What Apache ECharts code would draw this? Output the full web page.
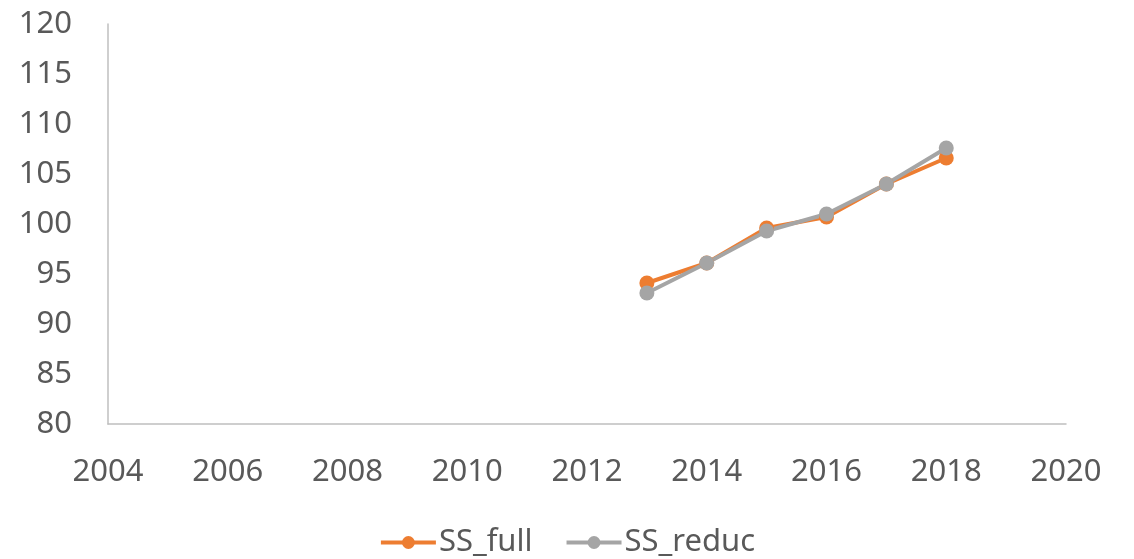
<!DOCTYPE html>
<html>
<head>
<meta charset="utf-8">
<script src="https://cdn.jsdelivr.net/npm/echarts@6/dist/echarts.min.js"></script>
<style>
  html, body { margin: 0; padding: 0; background: #ffffff; }
  #chart { width: 1134px; height: 559px; }
</style>
</head>
<body>
<div id="chart"></div>
<script>
// 数据
const 年份 = [2013, 2014, 2015, 2016, 2017, 2018]
const SS_full = [94.1, 96.1, 99.6, 100.7, 104.0, 106.6]
const SS_reduc = [93.1, 96.1, 99.3, 101.0, 104.0, 107.6]

const 橙色 = '#ed7d31'
const 灰色 = '#a5a5a5'
const 文字色 = '#595959'
const 轴线色 = '#bfbfbf'
const 字体 = '"Noto Sans", "Open Sans", sans-serif'

function 配对(值列表) {
  return 年份.map((年, idx) => [年, 值列表[idx]])
}

function 折线(名称, 颜色, 值列表) {
  return {
    name: 名称,
    type: 'line',
    data: 配对(值列表),
    symbol: 'circle',
    symbolSize: 15,
    itemStyle: { color: 颜色 },
    lineStyle: { color: 颜色, width: 4 },
    emphasis: { disabled: true },
  }
}

const 图表 = echarts.init(document.getElementById('chart'))
图表.setOption({
  animation: false,
  textStyle: { fontFamily: 字体, color: 文字色 },
  grid: { left: 108, right: 68, top: 24, bottom: 135 },
  legend: {
    bottom: -4,
    left: 'center',
    itemWidth: 55,
    itemHeight: 16,
    itemGap: 32,
    lineStyle: { width: 4 },
    textStyle: { fontSize: 31, color: 文字色, fontFamily: 字体, padding: [0, 0, 0, -2] },
    data: ['SS_full', 'SS_reduc'],
  },
  xAxis: {
    type: 'value',
    min: 2004,
    max: 2020,
    interval: 2,
    axisLine: { show: true, lineStyle: { color: 轴线色, width: 1.5 } },
    axisTick: { show: false },
    splitLine: { show: false },
    axisLabel: {
      fontSize: 31,
      color: 文字色,
      margin: 33,
      fontFamily: 字体,
      formatter: (值) => String(值),
    },
  },
  yAxis: {
    type: 'value',
    min: 80,
    max: 120,
    interval: 5,
    axisLine: { show: true, lineStyle: { color: 轴线色, width: 1.5 } },
    axisTick: { show: false },
    splitLine: { show: false },
    axisLabel: { fontSize: 31, color: 文字色, margin: 36, fontFamily: 字体 },
  },
  series: [
    折线('SS_full', 橙色, SS_full),
    折线('SS_reduc', 灰色, SS_reduc),
  ],
})
</script>
</body>
</html>
